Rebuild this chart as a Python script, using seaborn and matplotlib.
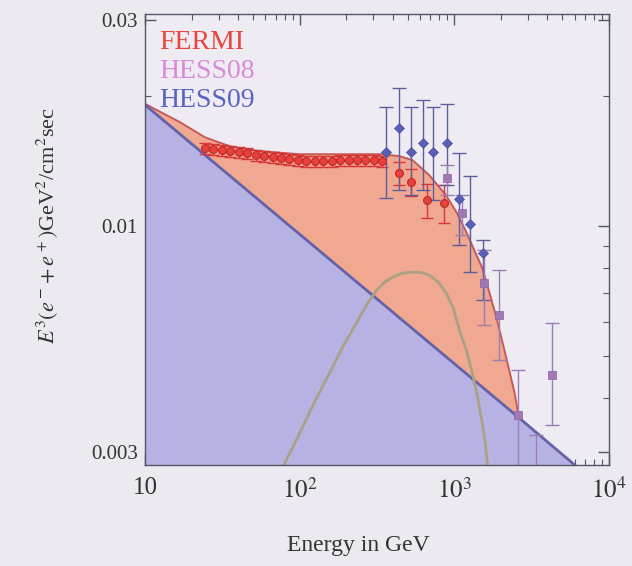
import numpy as np
import matplotlib
matplotlib.use("Agg")
import matplotlib.pyplot as plt
from matplotlib.ticker import NullFormatter, FixedLocator, LogLocator
import seaborn as sns

# ---- model curves (E in GeV, E^3 flux in GeV^2/cm^2 s) ----
bg_E = [10, 2620, 10000]
bg_flux = [0.0191, 0.0036, 0.0024]

total_E = [10, 16.8, 24.4, 35.4, 55.3, 99.8, 181, 329, 442, 537, 688, 883,
           1041, 1195, 1346, 1517, 1682, 1868, 2071, 2264, 2443, 2620]
total_flux = [0.0192, 0.01742, 0.01607, 0.01531, 0.01492, 0.01468, 0.01468,
              0.01468, 0.01453, 0.01422, 0.01313, 0.0118, 0.01072, 0.00969,
              0.0088, 0.0080, 0.00704, 0.00616, 0.0053, 0.00464, 0.00413,
              0.0036]

signal_E = [69, 80, 91.5, 104.5, 126.8, 156, 189.4, 233, 270.5, 314, 353.5,
            398, 461.8, 536, 612.4, 690, 788.5, 887, 985, 1077, 1195, 1306,
            1407, 1516, 1585, 1634, 1700]
signal_flux = [0.00232, 0.00283, 0.00311, 0.00343, 0.00396, 0.00457, 0.00525,
               0.00597, 0.00657, 0.00711, 0.00742, 0.00762, 0.00779, 0.00783,
               0.00781, 0.0077, 0.00742, 0.0070, 0.00646, 0.00575, 0.00517,
               0.00457, 0.00406, 0.0035, 0.00315, 0.00283, 0.0020]

# ---- FERMI ----
fermi_E = [24.4, 27.7, 31.4, 35.6, 40.4, 45.8, 51.9, 58.9, 66.8, 75.7, 85.9,
           97.4, 110.4, 125.2, 142, 161, 182.6, 207, 235, 266, 302, 343,
           442, 528, 665, 862]
fermi_flux = [0.01516, 0.01508, 0.01500, 0.01492, 0.01484, 0.01476, 0.01460,
              0.01453, 0.01445, 0.01437, 0.01430, 0.01422, 0.01415, 0.01415,
              0.01415, 0.01415, 0.01422, 0.01422, 0.01422, 0.01422, 0.01422,
              0.01415, 0.01327, 0.01265, 0.01149, 0.01131]
fermi_rel_err = [0.03] * 22 + [0.06, 0.07, 0.09, 0.10]

# ---- HESS09 ----
hess09_E = [364, 442, 528, 631, 732, 902, 1077, 1268, 1538]
hess09_flux = [0.01484, 0.01687, 0.01484, 0.01556, 0.01484, 0.01556, 0.01155,
               0.01011, 0.00866]
hess09_hi = [0.01887, 0.02087, 0.01887, 0.01957, 0.01887, 0.01916, 0.01476,
             0.01306, 0.00928]
hess09_lo = [0.01161, 0.01212, 0.0118, 0.01212, 0.01149, 0.01245, 0.00904,
             0.00783, 0.00675]

# ---- HESS08 ----
hess08_E = [902, 1127, 1563, 1950, 2588, 3381, 4285]
hess08_flux = [0.01292, 0.01072, 0.00738, 0.00622, 0.00365, 0.0022, 0.00452]
hess08_hi = [0.01389, 0.0118, 0.0088, 0.00791, 0.00464, 0.00328, 0.00597]
hess08_lo = [0.0118, 0.00953, 0.0059, 0.0049, 0.0025, 0.0015, 0.00347]

sns.set_theme(style="ticks")
plt.rcParams["font.family"] = ["Liberation Serif", "DejaVu Serif"]
plt.rcParams["mathtext.fontset"] = "stix"

bgcol = "#ECE9F0"
fig = plt.figure(figsize=(6.32, 5.66), dpi=100, facecolor=bgcol)
ax = fig.add_axes([145 / 632, 1 - 465 / 566, 464 / 632, 451 / 566])
ax.set_facecolor("#EEEBF2")
ax.set_xscale("log")
ax.set_yscale("log")
ax.set_xlim(10, 1e4)
ax.set_ylim(0.0028, 0.031)

# filled regions: background below the power law, excess above it
ax.fill(bg_E + [bg_E[-1], bg_E[0]], bg_flux + [1e-4, 1e-4],
        color="#B7B2E4", lw=0, zorder=1)
ax.fill(total_E + bg_E[1::-1], total_flux + bg_flux[1::-1],
        color="#F1A890", lw=0, zorder=1)

sns.lineplot(x=total_E, y=total_flux, sort=False, color="#C45A5A", lw=1.4,
             ax=ax, zorder=2)
sns.lineplot(x=bg_E, y=bg_flux, sort=False, color="#6462A8", lw=2.0,
             ax=ax, zorder=2)
sns.lineplot(x=signal_E, y=signal_flux, sort=False, color="#A9A184", lw=2.0,
             ax=ax, zorder=3)

fE = np.array(fermi_E)
fF = np.array(fermi_flux)
fErr = fF * np.array(fermi_rel_err)
ax.errorbar(fE, fF, yerr=fErr, fmt="none", ecolor="#D8373A", elinewidth=1.0,
            capsize=4, capthick=1.0, zorder=4)
sns.scatterplot(x=fermi_E, y=fermi_flux, marker="o", s=32, color="#E8403C",
                edgecolor="#C02828", linewidth=0.8, ax=ax, zorder=5)

h9 = np.array(hess09_flux)
ax.errorbar(hess09_E, h9,
            yerr=[h9 - np.array(hess09_lo), np.array(hess09_hi) - h9],
            fmt="none", ecolor="#5C5E9E", elinewidth=1.0, capsize=5,
            capthick=1.0, zorder=4)
sns.scatterplot(x=hess09_E, y=hess09_flux, marker="D", s=26, color="#5A5FB6",
                edgecolor="#4A4FA0", linewidth=0.5, ax=ax, zorder=5)

h8 = np.array(hess08_flux)
ax.errorbar(hess08_E, h8,
            yerr=[h8 - np.array(hess08_lo), np.array(hess08_hi) - h8],
            fmt="none", ecolor="#9B7FB2", elinewidth=1.0, capsize=5,
            capthick=1.0, zorder=4)
sns.scatterplot(x=hess08_E, y=hess08_flux, marker="s", s=32, color="#A279B5",
                edgecolor="#8A62A0", linewidth=0.5, ax=ax, zorder=5)

# axes styling
for sp in ax.spines.values():
    sp.set_color("#555566")
    sp.set_linewidth(1.0)
    sp.set_zorder(6)
ax.xaxis.set_major_locator(FixedLocator([10, 100, 1000, 10000]))
ax.set_xticklabels(["10", "$10^2$", "$10^3$", "$10^4$"])
ax.xaxis.set_minor_locator(LogLocator(base=10, subs=np.arange(2, 10)))
ax.xaxis.set_minor_formatter(NullFormatter())
ax.yaxis.set_major_locator(FixedLocator([0.003, 0.01, 0.03]))
ax.set_yticklabels(["0.003", "0.01", "0.03"])
ax.yaxis.set_minor_locator(LogLocator(base=10, subs=np.arange(2, 10)))
ax.yaxis.set_minor_formatter(NullFormatter())
ax.tick_params(which="both", direction="in", top=True, right=True,
               colors="#555566", labelcolor="#333333")
ax.tick_params(which="major", length=8, width=1.0)
ax.tick_params(which="minor", length=4, width=0.8)
ax.tick_params(axis="x", which="major", labelsize=18, pad=9)
ax.tick_params(axis="y", which="major", labelsize=15, pad=5)

ax.set_xlabel("Energy in GeV", fontsize=17, color="#333333")
ax.xaxis.set_label_coords(0.46, -0.155)
ax.set_ylabel(r"$E^3(e^-\!+e^+)$GeV$^2$/cm$^2$sec", fontsize=16,
              color="#333333")
ax.yaxis.set_label_coords(-0.183, 0.53)

# dataset labels
ax.text(0.03, 0.936, "FERMI", transform=ax.transAxes, fontsize=20,
        color="#E8453C", va="center", ha="left", zorder=7)
ax.text(0.03, 0.873, "HESS08", transform=ax.transAxes, fontsize=20,
        color="#D98AD9", va="center", ha="left", zorder=7)
ax.text(0.03, 0.808, "HESS09", transform=ax.transAxes, fontsize=20,
        color="#5A64C0", va="center", ha="left", zorder=7)

fig.savefig("out.png", dpi=100, facecolor=bgcol)
